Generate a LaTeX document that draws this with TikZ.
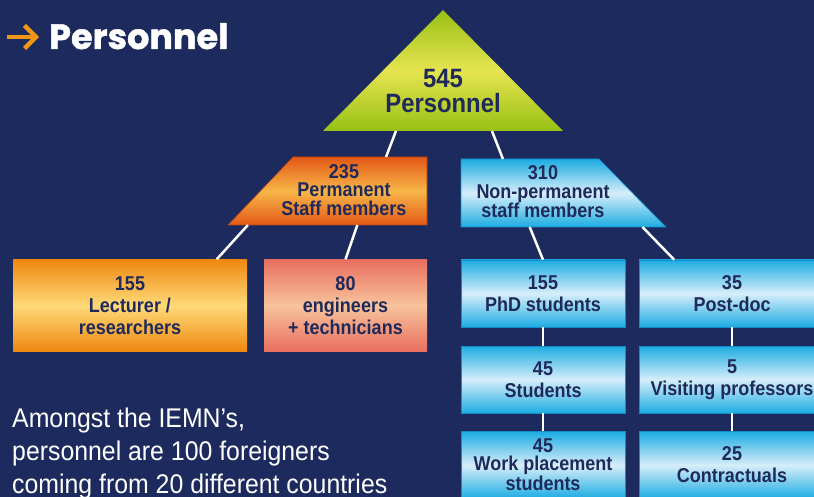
\documentclass[tikz,border=0pt]{standalone}
\usepackage{fontspec}
\newfontfamily\labelfont[FakeStretch=0.9]{Liberation Sans}
\newfontfamily\notefont[FakeStretch=0.92]{Liberation Sans}
\newfontfamily\titlefont[BoldFeatures={FakeBold=1.2}]{Poppins}
\usetikzlibrary{calc}

\definecolor{navybg}{RGB}{28,42,94}
\definecolor{navytext}{RGB}{31,42,90}
\definecolor{arrowor}{RGB}{240,150,20}
\definecolor{greentop}{RGB}{152,192,20}
\definecolor{greenmid}{RGB}{230,228,80}
\definecolor{orangetop}{RGB}{228,88,22}
\definecolor{orangemid}{RGB}{247,182,72}
\definecolor{lecttop}{RGB}{238,135,15}
\definecolor{lectmid}{RGB}{255,218,120}
\definecolor{engtop}{RGB}{232,110,95}
\definecolor{engmid}{RGB}{248,196,156}
\definecolor{bluetop}{RGB}{28,172,226}
\definecolor{bluemid}{RGB}{214,238,250}
\definecolor{blueline}{RGB}{20,140,200}

\tikzset{
	link/.style={draw=white, line width=2.5pt},
	lbl/.style={font=\labelfont\bfseries\fontsize{20}{22}\selectfont, text=navytext, align=center, inner sep=0pt},
	tightlbl/.style={lbl, font=\labelfont\bfseries\fontsize{20}{18.5}\selectfont},
	bluebox/.style={lbl, top color=bluetop, bottom color=bluetop, middle color=bluemid, draw=blueline, line width=0.6pt, minimum height=67pt}
}

\begin{document}
\begin{tikzpicture}[x=1pt, y=-1pt]
		\useasboundingbox (0,0) rectangle (814,497);
		\clip (0,0) rectangle (814,497);
		\fill[navybg] (0,0) rectangle (814,497);

		% title
		\draw[arrowor, line width=4.5pt] (7,37) -- (33,37);
		\draw[arrowor, line width=4.5pt] (24.5,25.5) -- (36,37) -- (24.5,48.5);
		\node[font=\titlefont\bfseries\fontsize{35}{40}\selectfont, text=white, anchor=base west, inner sep=0pt] (title) at (49,49) {Personnel};

		% top level
		\coordinate (rootA) at (443,10);
		\coordinate (rootL) at (323,131);
		\coordinate (rootR) at (563,131);
		\path[top color=greentop, bottom color=greentop, middle color=greenmid] (rootA) -- (rootR) -- (rootL) -- cycle;
		\node[lbl, font=\labelfont\bfseries\fontsize{26.5}{25}\selectfont] (root) at (443,91) {545\\Personnel};

		% second level
		\coordinate (permTL) at (293,157);
		\coordinate (permTR) at (427,157);
		\coordinate (permBR) at (427,225);
		\coordinate (permBL) at (228,225);
		\path[top color=orangetop, bottom color=orangetop, middle color=orangemid, draw=orangetop!80!black, line width=0.6pt] (permTL) -- (permTR) -- (permBR) -- (permBL) -- cycle;
		\node[tightlbl] (perm) at (344,190) {235\\Permanent\\Staff members};

		\coordinate (npTL) at (461,159);
		\coordinate (npTR) at (599,159);
		\coordinate (npBR) at (666,227);
		\coordinate (npBL) at (461,227);
		\path[top color=bluetop, bottom color=bluetop, middle color=bluemid, draw=blueline, line width=0.6pt] (npTL) -- (npTR) -- (npBR) -- (npBL) -- cycle;
		\node[tightlbl] (nonperm) at (543,192) {310\\Non-permanent\\staff members};

		% permanent staff
		\node[lbl, top color=lecttop, bottom color=lecttop, middle color=lectmid, minimum width=234pt, minimum height=92pt] (lect) at (130,305.5) {155\\Lecturer /\\researchers};
		\node[lbl, top color=engtop, bottom color=engtop, middle color=engmid, minimum width=163pt, minimum height=92pt] (eng) at (345.5,305.5) {80\\engineers\\+ technicians};

		% non-permanent staff
		\node[bluebox, minimum width=164pt] (phd) at (543,293.5) {155\\PhD students};
		\node[bluebox, minimum width=186pt] (pdoc) at (732,293.5) {35\\Post-doc};
		\node[bluebox, minimum width=164pt] (stud) at (543,379.5) {45\\Students};
		\node[bluebox, minimum width=186pt] (visit) at (732,379.5) {5\\Visiting professors};
		\node[bluebox, minimum width=164pt, font=\labelfont\bfseries\fontsize{20}{18}\selectfont] (work) at (543,465) {45\\Work placement\\students};
		\node[bluebox, minimum width=186pt] (contr) at (732,465) {25\\Contractuals};

		% connectors
		\draw[link] ($(rootL)!0.304!(rootR)$) -- ($(permTL)!0.694!(permTR)$);
		\draw[link] ($(rootL)!0.704!(rootR)$) -- ($(npTL)!0.304!(npTR)$);
		\draw[link] ($(permBL)!0.1!(permBR)$) -- ($(lect.north west)!0.87!(lect.north east)$);
		\draw[link] ($(permBL)!0.65!(permBR)$) -- (eng.north);
		\draw[link] ($(npBL)!0.335!(npBR)$) -- (phd.north);
		\draw[link] ($(npBL)!0.885!(npBR)$) -- ($(pdoc.north west)!0.19!(pdoc.north east)$);
		\draw[link] (phd) -- (stud);
		\draw[link] (stud) -- (work);
		\draw[link] (pdoc) -- (visit);
		\draw[link] (visit) -- (contr);

		\node[font=\notefont\fontsize{27}{33}\selectfont, text=white, align=left, anchor=north west, inner sep=0pt] (note) at (12,408) {Amongst the IEMN’s,\\personnel are 100 foreigners\\coming from 20 different countries};
	\end{tikzpicture}
\end{document}
